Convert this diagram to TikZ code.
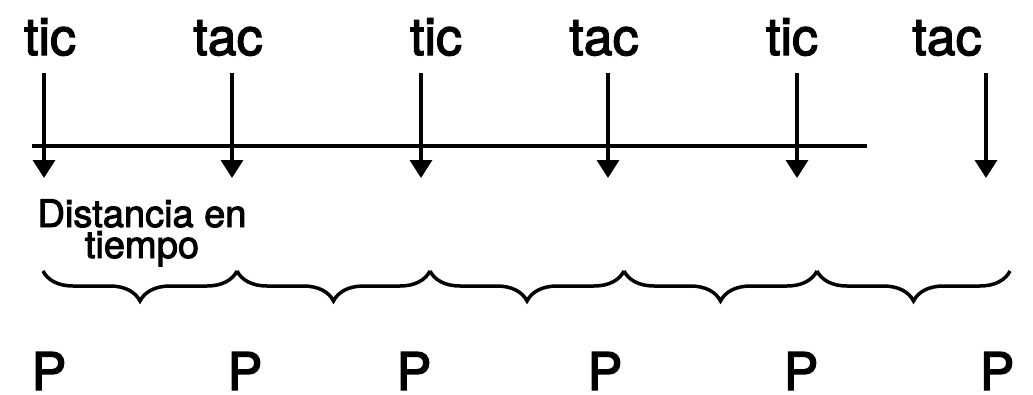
\documentclass[tikz,border=0pt]{standalone}
\usepackage{fontspec}
\setmainfont{TeX Gyre Heros}[FakeBold=2.5]
\usetikzlibrary{arrows.meta,decorations.pathreplacing}
\begin{document}
\begin{tikzpicture}[x=1pt,y=-1pt,
  lbl/.style={font=\fontsize{52}{52}\selectfont, inner sep=0pt, anchor=base},
  small/.style={font=\fontsize{38}{31}\selectfont, inner sep=0pt, anchor=base, align=center},
  arr/.style={line width=3.5pt, -{Triangle[length=18pt,width=22pt]}},
  axis/.style={line width=3.5pt},
  brc/.style={line width=3.5pt, decorate, decoration={brace, mirror, amplitude=30pt}},
]
\useasboundingbox (0,0) rectangle (1033,394);
% top labels
\node[lbl] (t1) at (50,55) {tic};
\node[lbl] (t2) at (228,55) {tac};
\node[lbl] (t3) at (436,55) {tic};
\node[lbl] (t4) at (604,55) {tac};
\node[lbl] (t5) at (792,55) {tic};
\node[lbl] (t6) at (947,55) {tac};
% time axis
\coordinate (hl) at (32,146);
\coordinate (hr) at (867,146);
\draw[axis] (hl) -- (hr);
% arrows
\foreach \i/\x in {1/44,2/232,3/421,4/608,5/797,6/986}{
  \coordinate (s\i) at (\x,73);
  \coordinate (e\i) at (\x,178);
  \draw[arr] (s\i) -- (e\i);
}
% label (base anchor = last line)
\node[small] (dist) at (142,258) {Distancia en\\tiempo};
% braces
\foreach \i/\x in {0/43,1/237,2/430,3/624,4/817,5/1010}{
  \coordinate (b\i) at (\x,271);
}
\foreach \a/\b in {0/1,1/2,2/3,3/4,4/5}{
  \draw[brc] (b\a) -- (b\b);
}
% bottom labels
\node[lbl] (p1) at (49,390) {P};
\node[lbl] (p2) at (245,390) {P};
\node[lbl] (p3) at (414,390) {P};
\node[lbl] (p4) at (605,390) {P};
\node[lbl] (p5) at (801,390) {P};
\node[lbl] (p6) at (997,390) {P};
\end{tikzpicture}
\end{document}
